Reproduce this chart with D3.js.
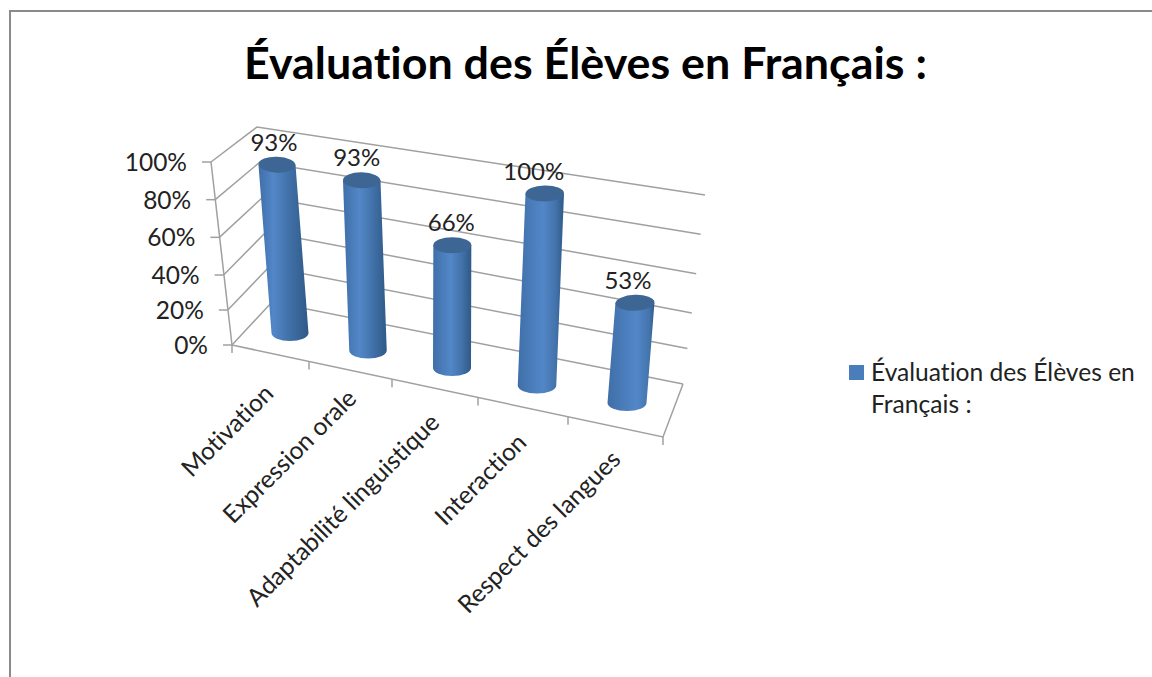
<!DOCTYPE html>
<html><head><meta charset="utf-8">
<script src="https://cdnjs.cloudflare.com/ajax/libs/d3/7.8.5/d3.min.js"></script>
<style>html,body{margin:0;padding:0;background:#fff;overflow:hidden}svg{display:block}text{font-family:Lato,"Open Sans",sans-serif;fill:#222;font-variant-ligatures:none}</style>
</head><body>
<script>
const titleText = "Évaluation des Élèves en Français :";
const categories = ["Motivation","Expression orale","Adaptabilité linguistique","Interaction","Respect des langues"];
const values = [93,93,66,100,53];
const tickValues = [0,20,40,60,80,100];
const legendLines = ["Évaluation des Élèves en","Français :"];

const svg = d3.select("body").append("svg").attr("width",1152).attr("height",677);
const defs = svg.append("defs");

// chart frame
svg.append("path").attr("d","M1152,11H10V677").attr("fill","none").attr("stroke","#8a8a8a").attr("stroke-width",2);

svg.append("text").attr("x",585.5).attr("y",79).attr("text-anchor","middle")
  .attr("font-size",44.8).attr("font-weight",700).style("fill","#000").text(titleText);

// projected 3D frame, expressed as scales over value (percent)
const vDomain=[0,100], vPiece=[0,40,100];
const frontX=d3.scaleLinear().domain(vDomain).range([232,211]);
const frontY=d3.scaleLinear().domain(vPiece).range([345,275,162]);
const backX=d3.scaleLinear().domain(vDomain).range([272,257]);
const backY=d3.scaleLinear().domain(vDomain).range([302,127]);
const rightX=d3.scaleLinear().domain(vDomain).range([683,705]);
const rightY=d3.scaleLinear().domain(vPiece).range([384,313,195]);

// category scales (floor front edge and bar centres)
const idx=[0,1,2,3,4];
const edgeX=d3.scaleLinear().domain([0,1,2,3,4,5]).range([232,309,392,478,568,663]);
const edgeY=d3.scaleLinear().domain([232,663]).range([345,437]);
const barX=d3.scaleLinear().domain(idx).range([290,368,452,537,627]);
const barY=d3.scaleLinear().domain([0,4]).range([333,403]);
const riseX=d3.scaleLinear().domain([0,4]).range([-14,15]);
const riseY=d3.scaleLinear().domain(idx).range([-181,-183,-186,-192,-189]);
const radius=d3.scaleLinear().domain([0,4]).range([18.5,19.5]);
const highlight=d3.scaleLinear().domain([0,4]).range([30,62]);
const tilt=d3.scaleLinear().domain([0,4]).range([2,-2]);
const labelDx=d3.scaleLinear().domain(idx).range([-3,-5,-1,-11,-7]);

const grid=svg.append("g").attr("fill","none").attr("stroke","#a0a0a0").attr("stroke-width",1.5);
tickValues.forEach(v=>{
  grid.append("path").attr("d",d3.line()([[frontX(v),frontY(v)],[backX(v),backY(v)],[rightX(v),rightY(v)]]));
  grid.append("line").attr("x1",frontX(v)-9).attr("x2",frontX(v)).attr("y1",frontY(v)).attr("y2",frontY(v));
});
// axes edges
grid.append("line").attr("x1",frontX(0)).attr("y1",frontY(0)).attr("x2",frontX(100)).attr("y2",frontY(100));
grid.append("path").attr("d",d3.line()([[frontX(0),frontY(0)],[edgeX(5),edgeY(edgeX(5))],[rightX(0),rightY(0)]]));
d3.range(6).forEach(i=>{
  const x=edgeX(i),y=edgeY(x);
  grid.append("line").attr("x1",x).attr("x2",x).attr("y1",y).attr("y2",y+8);
});

// y labels
svg.append("g").selectAll("text").data(tickValues).join("text")
  .attr("x",v=>frontX(v)-24).attr("y",v=>frontY(v)+9)
  .attr("text-anchor","end").attr("font-size",24.5).text(v=>v+"%");

// bars
const bars=svg.append("g");
values.forEach((v,i)=>{
  const x0=barX(i),y0=barY(i),x1=x0+riseX(i)*v/100,y1=y0+riseY(i)*v/100,r=radius(i),ry=8;
  const h=highlight(i);
  const g=defs.append("linearGradient").attr("id","cyl"+i);
  [[0,"#3f6fa8"],[h,"#5287c8"],[Math.min(h+28,92),"#4373ab"],[100,"#2f5987"]].forEach(s=>
    g.append("stop").attr("offset",s[0]+"%").attr("stop-color",s[1]));
  bars.append("path")
    .attr("d",`M${x1-r},${y1}L${x0-r},${y0}A${r},${ry} 0 0 0 ${x0+r},${y0}L${x1+r},${y1}Z`)
    .attr("fill",`url(#cyl${i})`);
  bars.append("ellipse").attr("cx",x1).attr("cy",y1).attr("rx",r).attr("ry",ry)
    .attr("transform",`rotate(${tilt(i)} ${x1} ${y1})`).attr("fill","#3d6694");
  svg.append("text").attr("x",x1+labelDx(i)).attr("y",y1-14).attr("text-anchor","middle")
    .attr("font-size",24).text(v+"%");
});

// category labels
const labelEndX=d3.scaleLinear().domain(idx).range([275,358,441,528,622]);
const labelEndY=d3.scaleLinear().domain(idx).range([395,400,424,444,461]);
svg.append("g").selectAll("text").data(categories).join("text")
  .attr("transform",(d,i)=>`translate(${labelEndX(i)},${labelEndY(i)}) rotate(-45)`)
  .attr("text-anchor","end").attr("font-size",24.6).text(d=>d);

// legend
svg.append("rect").attr("x",849).attr("y",365).attr("width",15).attr("height",15).attr("fill","#4a7ebb");
svg.append("g").selectAll("text").data(legendLines).join("text")
  .attr("x",871).attr("y",(d,i)=>381+i*32).attr("font-size",24.6).text(d=>d);
</script>
</body></html>
